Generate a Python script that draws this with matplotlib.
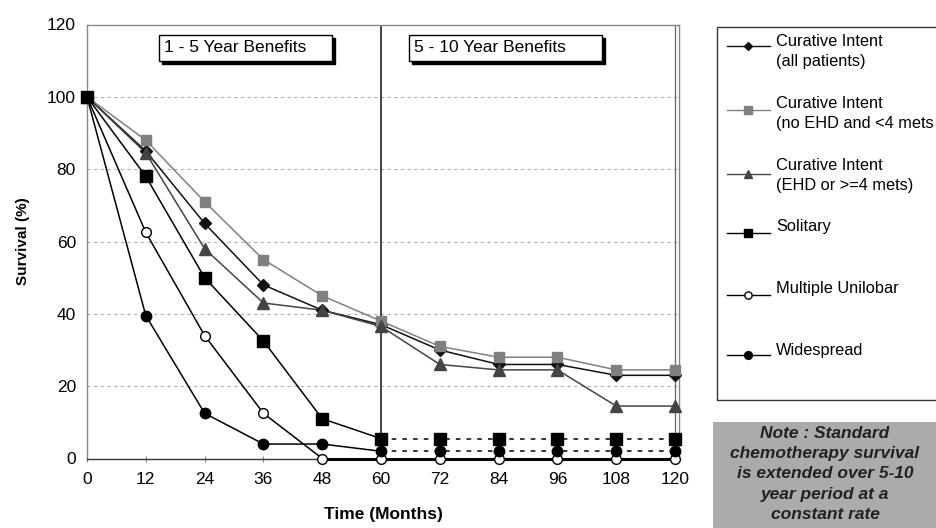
import matplotlib
matplotlib.use("Agg")
import matplotlib.pyplot as plt
from matplotlib.lines import Line2D
from matplotlib.patches import Rectangle

plt.rcParams['font.family'] = ['Liberation Sans', 'DejaVu Sans']

months = [0, 12, 24, 36, 48, 60, 72, 84, 96, 108, 120]
x_ticks = [0, 12, 24, 36, 48, 60, 72, 84, 96, 108, 120]
y_ticks = [0, 20, 40, 60, 80, 100, 120]

cur_all = [100, 85, 65, 48, 41, 37, 30, 26, 26, 23, 23]
cur_no_ehd = [100, 88, 71, 55, 45, 38, 31, 28, 28, 24.5, 24.5]
cur_ehd = [100, 84.5, 58, 43, 41, 36.5, 26, 24.5, 24.5, 14.5, 14.5]
solitary = [100, 78, 50, 32.5, 11, 5.5, 5.5, 5.5, 5.5, 5.5, 5.5]
multiple = [100, 62.5, 34, 12.5, 0, 0, 0, 0, 0, 0, 0]
widespread = [100, 39.5, 12.5, 4, 4, 2, 2, 2, 2, 2, 2]

labels = ["Curative Intent\n(all patients)",
          "Curative Intent\n(no EHD and <4 mets",
          "Curative Intent\n(EHD or >=4 mets)",
          "Solitary",
          "Multiple Unilobar",
          "Widespread"]

W, H = 937, 528
fig = plt.figure(figsize=(W / 100, H / 100), dpi=100)
ax = fig.add_axes([87 / W, 1 - 458.5 / H, (679 - 87) / W, (458.5 - 24.5) / H])
ax.set_xlim(0, 120.8)
ax.set_ylim(0, 120)

styles = [
    dict(color='#111111', marker='D', ms=6, mfc='#111111', mec='#111111'),
    dict(color='#808080', marker='s', ms=7.5, mfc='#808080', mec='#808080'),
    dict(color='#444444', marker='^', ms=8, mfc='#444444', mec='#444444'),
    dict(color='#000000', marker='s', ms=8, mfc='#000000', mec='#000000'),
    dict(color='#000000', marker='o', ms=7, mfc='white', mec='#000000'),
    dict(color='#000000', marker='o', ms=7.5, mfc='#000000', mec='#000000'),
]
series = [cur_all, cur_no_ehd, cur_ehd, solitary, multiple, widespread]
i60 = months.index(60)

# grid
for yv in y_ticks[1:-1]:
    ax.axhline(yv, color='#b0b0b0', lw=0.8, ls=(0, (3, 3)), zorder=0)

# draw series
for k, (vals, st) in enumerate(zip(series, styles)):
    if k in (3, 5):
        ax.plot(months[:i60 + 1], vals[:i60 + 1], color=st['color'], lw=1.1, zorder=3,
                clip_on=False)
        ax.plot(months[i60:], vals[i60:], color=st['color'], lw=1.1,
                ls=(0, (3, 4)), zorder=3, clip_on=False)
    else:
        lw = 2.2 if k == 4 else 1.1
        ax.plot(months[:5], vals[:5], color=st['color'], lw=1.1, zorder=3, clip_on=False)
        ax.plot(months[4:], vals[4:], color=st['color'], lw=lw, zorder=3, clip_on=False)
    ax.plot(months, vals, ls='none', marker=st['marker'], ms=st['ms'],
            mfc=st['mfc'], mec=st['mec'], zorder=4, clip_on=False)

# vertical separators
ax.axvline(60, color='#111111', lw=1.1, zorder=2)
ax.axvline(120, color='#666666', lw=0.9, zorder=2)

for side in ['left', 'top', 'right', 'bottom']:
    ax.spines[side].set_color('#888888')
    ax.spines[side].set_linewidth(1.0)
ax.spines['bottom'].set_color('#333333')

ax.set_xticks(x_ticks)
ax.set_yticks(y_ticks)
ax.tick_params(axis='both', labelsize=12.5, length=4, color='#888888', direction='inout')
ax.tick_params(axis='x', pad=8)
ax.tick_params(axis='y', pad=8, length=0)
ax.set_xlabel("Time (Months)", fontsize=12.5, fontweight='bold', labelpad=14)
ax.set_ylabel("Survival (%)", fontsize=11, fontweight='bold', labelpad=12)


def fx(px):
    return px / W


def fy(py):
    return 1 - py / H


# period boxes with shadows
for (x0, x1, txt) in [(159, 332, "1 - 5 Year Benefits"), (409, 602, "5 - 10 Year Benefits")]:
    y0, y1 = 35, 61
    fig.patches.append(Rectangle((fx(x0 + 3), fy(y1 + 3)), fx(x1 - x0), (y1 - y0) / H,
                                 transform=fig.transFigure, facecolor='black',
                                 edgecolor='black', zorder=5))
    fig.patches.append(Rectangle((fx(x0), fy(y1)), fx(x1 - x0), (y1 - y0) / H,
                                 transform=fig.transFigure, facecolor='white',
                                 edgecolor='black', lw=1.0, zorder=6))
    fig.text(fx(x0 + 5), fy((y0 + y1) / 2), txt, fontsize=12.5, va='center',
             ha='left', zorder=7)

# legend box
fig.patches.append(Rectangle((fx(717), fy(400)), fx(940 - 717), (400 - 27) / H,
                             transform=fig.transFigure, facecolor='white',
                             edgecolor='#333333', lw=1.0, zorder=5))
handle_y = [46, 110, 174, 233, 295, 355]
text_y = [43, 105, 167, 228, 290, 352]
for k, st in enumerate(styles):
    hy = handle_y[k]
    fig.add_artist(Line2D([fx(727), fx(770)], [fy(hy), fy(hy)], color=st['color'],
                          lw=1.0, transform=fig.transFigure, zorder=6))
    fig.add_artist(Line2D([fx(748)], [fy(hy)], marker=st['marker'], ms=st['ms'] * 0.75,
                          mfc=st['mfc'], mec=st['mec'], transform=fig.transFigure,
                          zorder=7))
    fig.text(fx(776), fy(text_y[k] - 9), labels[k], fontsize=11.8, va='top',
             ha='left', linespacing=1.4, zorder=7)

# note box
fig.patches.append(Rectangle((fx(713), fy(530)), fx(940 - 713), (530 - 422) / H,
                             transform=fig.transFigure, facecolor='#ababab',
                             edgecolor='none', zorder=5))
note = "Note : Standard\nchemotherapy survival\nis extended over 5-10\nyear period at a\nconstant rate"
fig.text(fx(825), fy(474), note, fontsize=12.5, fontweight='bold', fontstyle='italic',
         color='#222222', ha='center', va='center', linespacing=1.45, zorder=7)

fig.savefig("out.png", dpi=100)
